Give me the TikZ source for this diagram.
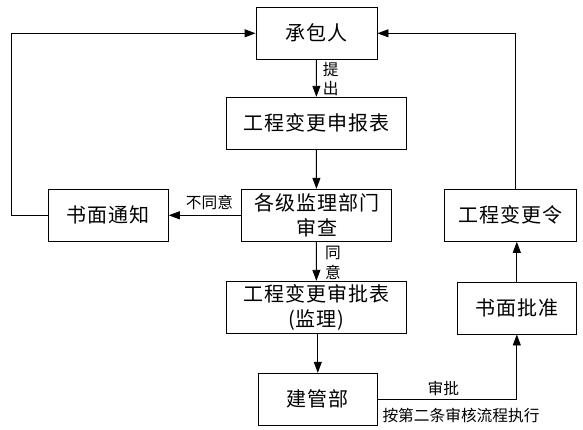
\documentclass[tikz,border=0pt]{standalone}
\usepackage{fontspec}
\newfontfamily\cjk{Noto Sans CJK SC}
\newfontfamily\cjkl{Noto Sans CJK SC}[LetterSpace=5]
\usetikzlibrary{arrows.meta}
\begin{document}
\begin{tikzpicture}[x=1pt,y=-1pt,
  box/.style={draw,line width=0.9pt,inner sep=0pt,align=center,font=\cjkl\fontsize{20}{24.5}\selectfont},
  lab/.style={inner sep=0pt,font=\cjk\fontsize{15.7}{18}\selectfont},
  conn/.style={line width=0.9pt,-{Triangle[length=11pt,width=8pt]}},
  plain/.style={line width=0.9pt}]
\useasboundingbox (0,0) rectangle (583,430);
\node[box,minimum width=121pt,minimum height=52pt] (cb) at (316.5,33.3) {承包人};
\node[box,minimum width=180pt,minimum height=52pt] (sb) at (316.3,123.3) {工程变更申报表};
\node[box,minimum width=150.4pt,minimum height=52pt] (sc) at (316.5,215.3) {各级监理部门\\审查};
\node[box,minimum width=120pt,minimum height=52pt] (tz) at (108.3,215.3) {书面通知};
\node[box,minimum width=132pt,minimum height=52pt] (bgl) at (510.3,215.3) {工程变更令};
\node[box,minimum width=180pt,minimum height=52pt] (spb) at (316.3,307.3) {工程变更审批表\\(监理)};
\node[box,minimum width=119pt,minimum height=52pt] (pz) at (516.8,308) {书面批准};
\node[box,minimum width=119pt,minimum height=52pt] (jg) at (317.8,399.3) {建管部};

\coordinate (lc) at (11,215.3);
\coordinate (rc) at (515.7,189.3);

\draw[conn] (cb) -- (sb);
\draw[conn] (sb) -- (sc);
\draw[conn] (sc) -- (tz);
\draw[conn] (sc) -- (spb);
\draw[conn] (spb.south -| jg.north) -- (jg.north);
\draw[conn] (tz.west) -- (lc) |- (cb.west);
\draw[conn] (rc) |- (cb.east);
\draw[conn] (jg.east) -| (pz.south);
\draw[conn] (pz.north) -- (pz.north |- bgl.south);

\node[lab] (t1) at (330.7,70) {提};
\node[lab] (t2) at (330.7,89) {出};
\node[lab] (t3) at (333,253) {同};
\node[lab] (t4) at (333,272) {意};
\node[lab] (t5) at (209.5,202) {不同意};
\node[lab] (t6) at (443.3,388.3) {审批};
\node[lab] (t7) at (461,415) {按第二条审核流程执行};
\end{tikzpicture}
\end{document}
